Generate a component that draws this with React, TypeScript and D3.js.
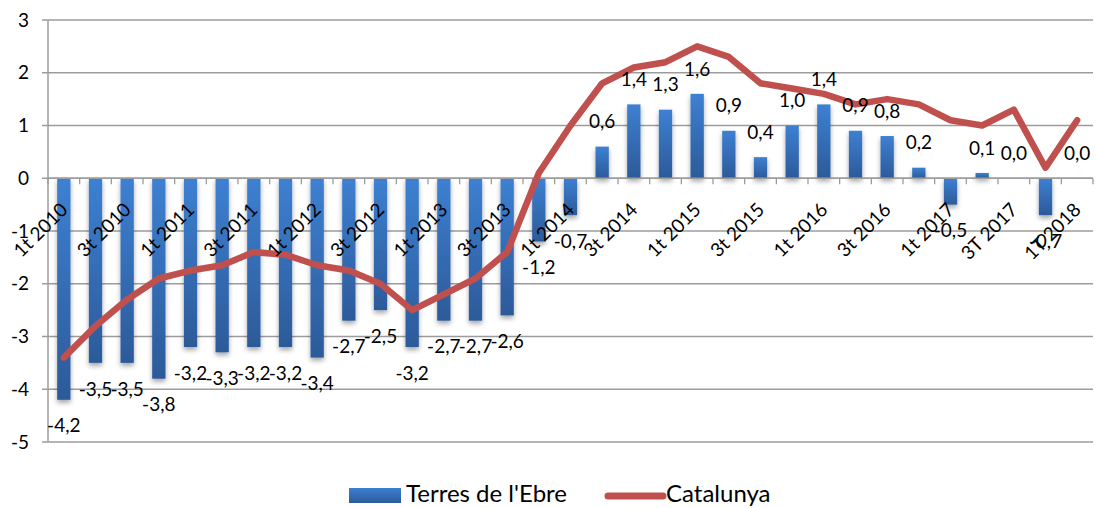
import React from 'react';
import * as d3 from 'd3';

const categories = [
  '1t 2010', '2t 2010', '3t 2010', '4t 2010',
  '1t 2011', '2t 2011', '3t 2011', '4t 2011',
  '1t 2012', '2t 2012', '3t 2012', '4t 2012',
  '1t 2013', '2t 2013', '3t 2013', '4t 2013',
  '1t 2014', '2t 2014', '3t 2014', '4t 2014',
  '1t 2015', '2t 2015', '3t 2015', '4t 2015',
  '1t 2016', '2t 2016', '3t 2016', '4t 2016',
  '1t 2017', '2T 2017', '3T 2017', '4T 2017',
  '1T 2018',
];

const terresEbre = [
  -4.2, -3.5, -3.5, -3.8,
  -3.2, -3.3, -3.2, -3.2,
  -3.4, -2.7, -2.5, -3.2,
  -2.7, -2.7, -2.6, -1.2,
  -0.7, 0.6, 1.4, 1.3,
  1.6, 0.9, 0.4, 1.0,
  1.4, 0.9, 0.8, 0.2,
  -0.5, 0.1, 0.0, -0.7,
  0.0,
];

const catalunya = [
  -3.4, -2.8, -2.3, -1.9,
  -1.75, -1.65, -1.4, -1.45,
  -1.65, -1.75, -2.0, -2.5,
  -2.2, -1.9, -1.4, 0.1,
  1.0, 1.8, 2.1, 2.2,
  2.5, 2.3, 1.8, 1.7,
  1.6, 1.4, 1.5, 1.4,
  1.1, 1.0, 1.3, 0.2,
  1.1,
];

const yTicks = [-5, -4, -3, -2, -1, 0, 1, 2, 3];
const seriesNames = ["Terres de l'Ebre", 'Catalunya'];

const FONT = 'Lato, "Open Sans", sans-serif';
const fmt = (v: number) => v.toFixed(1).replace('.', ',');

export default function App() {
  const W = 1096;
  const H = 508;
  const left = 48;
  const right = 1093;

  const x = d3
    .scaleBand<string>()
    .domain(categories)
    .range([left, right])
    .paddingInner(0.58)
    .paddingOuter(0.29);
  const y = d3.scaleLinear().domain([-5, 3]).range([442, 20]);
  const step = x.step();
  const cx = (c: string) => (x(c) as number) + x.bandwidth() / 2;

  const line = d3
    .line<number>()
    .x((_, i) => cx(categories[i]))
    .y((d) => y(d));

  const y0 = y(0);

  return (
    <svg
      width={W}
      height={H}
      style={{ position: 'absolute', left: 0, top: 0, background: '#fff' }}
      fontFamily={FONT}
    >
      <defs>
        <linearGradient id="barGrad" x1="0" y1="0" x2="0" y2="1">
          <stop offset="0%" stopColor="#3D80D2" />
          <stop offset="100%" stopColor="#2C5A99" />
        </linearGradient>
        <filter id="shadow" x="-50%" y="-20%" width="200%" height="140%">
          <feDropShadow dx="0" dy="3" stdDeviation="2.5" floodColor="#000" floodOpacity="0.35" />
        </filter>
      </defs>

      {/* gridlines */}
      {yTicks.map((t) => (
        <line key={'g' + t} x1={left - 6} x2={right} y1={y(t)} y2={y(t)} stroke="#9C9C9C" strokeWidth={1.3} />
      ))}
      {/* y tick labels */}
      {yTicks.map((t) => (
        <text key={'yl' + t} x={29} y={y(t)} dy="0.35em" textAnchor="end" fontSize={19} fill="#000">
          {t}
        </text>
      ))}
      {/* y axis */}
      <line x1={left} x2={left} y1={y(3)} y2={y(-5)} stroke="#9C9C9C" strokeWidth={1.5} />

      {/* bars */}
      <g filter="url(#shadow)">
        {terresEbre.map((v, i) => {
          const c = categories[i];
          const top = Math.min(y(v), y0);
          const h = Math.abs(y(v) - y0);
          return <rect key={'b' + i} x={x(c)} y={top} width={x.bandwidth()} height={h} fill="url(#barGrad)" />;
        })}
      </g>

      {/* x axis ticks */}
      {d3.range(categories.length + 1).map((i) => (
        <line key={'xt' + i} x1={left + i * step} x2={left + i * step} y1={y0} y2={y0 + 6} stroke="#9C9C9C" strokeWidth={1.3} />
      ))}
      <line x1={left} x2={right} y1={y0} y2={y0} stroke="#9C9C9C" strokeWidth={1.5} />

      {/* Catalunya line */}
      <path
        d={line(catalunya) || ''}
        fill="none"
        stroke="#C0504D"
        strokeWidth={6.5}
        strokeLinejoin="round"
        strokeLinecap="round"
      />

      {/* x labels */}
      {categories.map((c, i) =>
        i % 2 === 0 ? (
          <text
            key={'xl' + i}
            transform={`translate(${cx(c) + 5},${211}) rotate(-45)`}
            textAnchor="end"
            fontSize={19}
            fill="#000"
          >
            {c}
          </text>
        ) : null
      )}

      {/* data labels */}
      {terresEbre.map((v, i) => {
        const c = categories[i];
        const ly = v < 0 ? y(v) + 26 : y(v) - 25;
        return (
          <text key={'dl' + i} x={cx(c)} y={ly} dy="0.35em" textAnchor="middle" fontSize={19} fill="#000">
            {fmt(v)}
          </text>
        );
      })}

      {/* legend */}
      <rect x={349} y={488} width={52} height={15} fill="url(#barGrad)" />
      <text x={406} y={502} fontSize={24} fill="#000">
        {seriesNames[0]}
      </text>
      <line x1={608} x2={663} y1={496} y2={496} stroke="#C0504D" strokeWidth={7} strokeLinecap="round" />
      <text x={666} y={502} fontSize={24} fill="#000">
        {seriesNames[1]}
      </text>
    </svg>
  );
}
